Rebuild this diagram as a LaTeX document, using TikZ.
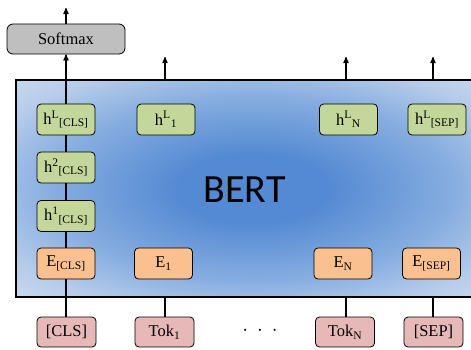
\documentclass[tikz,border=0pt]{standalone}
\usepackage{fontspec}
\setmainfont{Liberation Serif}
\newfontfamily\bertfont{Carlito}
\usetikzlibrary{positioning, arrows}
\definecolor{hgreen}{RGB}{196,215,155}
\definecolor{eorange}{RGB}{250,192,143}
\definecolor{tpink}{RGB}{230,185,184}
\definecolor{sgray}{RGB}{191,191,191}
\definecolor{bertdark}{RGB}{84,138,211}
\definecolor{bertmid}{RGB}{134,173,224}
\definecolor{bertpale}{RGB}{182,204,234}
\definecolor{bertlight}{RGB}{206,220,240}
\pgfdeclareradialshading{bertglow}{\pgfpoint{0bp}{0bp}}{%
  color(0bp)=(bertdark); color(8bp)=(bertdark);
  color(21bp)=(bertmid); color(30bp)=(bertpale);
  color(37bp)=(bertlight); color(50bp)=(bertlight)}
\tikzset{
  >=stealth',
  every node/.style={font=\fontsize{16.5}{18}\selectfont},
  block/.style={draw, rounded corners=4pt, line width=0.8pt,
    minimum width=58pt, minimum height=31pt, inner sep=1pt},
  hid/.style={block, fill=hgreen},
  emb/.style={block, fill=eorange},
  tok/.style={block, fill=tpink, minimum width=59pt, minimum height=30pt},
  link/.style={line width=1.2pt},
}

\begin{document}
\begin{tikzpicture}[x=1pt, y=1pt]
  \useasboundingbox (0,0) rectangle (471,349);
  \clip (0,0) rectangle (471,349);

  % encoder
  \node[draw, line width=2pt, shading=bertglow, minimum width=474pt,
    minimum height=217pt, inner sep=0pt] (bert) at (253,160.5) {};
  \node[font=\bertfont\fontsize{40}{40}\selectfont] (bertname) at (244.5,159) {BERT};

  % output head
  \node[block, fill=sgray, minimum width=118pt, minimum height=30pt,
    rounded corners=6pt] (softmax) at (66,310) {Softmax};

  % hidden states
  \node[hid] (hLcls) at (66,229.5) {h\textsuperscript{L}\textsubscript{[CLS]}};
  \node[hid] (h2cls) at (66,181.5) {h\textsuperscript{2}\textsubscript{[CLS]}};
  \node[hid] (h1cls) at (66,133) {h\textsuperscript{1}\textsubscript{[CLS]}};
  \node[hid] (hL1) at (166,229.5) {h\textsuperscript{L}\textsubscript{1}};
  \node[hid] (hLN) at (348.5,229.5) {h\textsuperscript{L}\textsubscript{N}};
  \node[hid] (hLsep) at (437,229.5) {h\textsuperscript{L}\textsubscript{[SEP]}};

  % embeddings
  \node[emb] (Ecls) at (66,85.5) {E\textsubscript{[CLS]}};
  \node[emb] (E1) at (163.5,85.5) {E\textsubscript{1}};
  \node[emb] (EN) at (343,85.5) {E\textsubscript{N}};
  \node[emb] (Esep) at (431.5,85.5) {E\textsubscript{[SEP]}};

  % input tokens
  \node[tok] (tokcls) at (66.5,17) {[CLS]};
  \node[tok] (tok1) at (164.5,17) {Tok\textsubscript{1}};
  \node[font=\fontsize{21}{21}\selectfont] (dots) at (260,18)
    {$\cdot$\hspace{9pt}$\cdot$\hspace{9pt}$\cdot$};
  \node[tok] (tokN) at (345,17) {Tok\textsubscript{N}};
  \node[tok] (toksep) at (433.5,17) {[SEP]};

  % free ends of the outputs
  \coordinate (out0) at (66,341);
  \coordinate (out1) at (165,292);
  \coordinate (outN) at (346,292);
  \coordinate (outsep) at (433,292);

  % [CLS] column
  \draw[link] (tokcls.north -| Ecls) -- (Ecls);
  \draw[link] (Ecls) -- (h1cls);
  \draw[link] (h1cls) -- (h2cls);
  \draw[link] (h2cls) -- (hLcls);
  \draw[link, ->] (hLcls) -- (softmax);
  \draw[link, ->] (softmax) -- (out0);

  % other columns
  \draw[link] (tok1.north -| out1) -- (out1 |- bert.south);
  \draw[link] (tokN.north -| outN) -- (outN |- bert.south);
  \draw[link] (toksep.north -| outsep) -- (outsep |- bert.south);
  \draw[link, ->] (out1 |- bert.north) -- (out1);
  \draw[link, ->] (outN |- bert.north) -- (outN);
  \draw[link, ->] (outsep |- bert.north) -- (outsep);
\end{tikzpicture}
\end{document}
